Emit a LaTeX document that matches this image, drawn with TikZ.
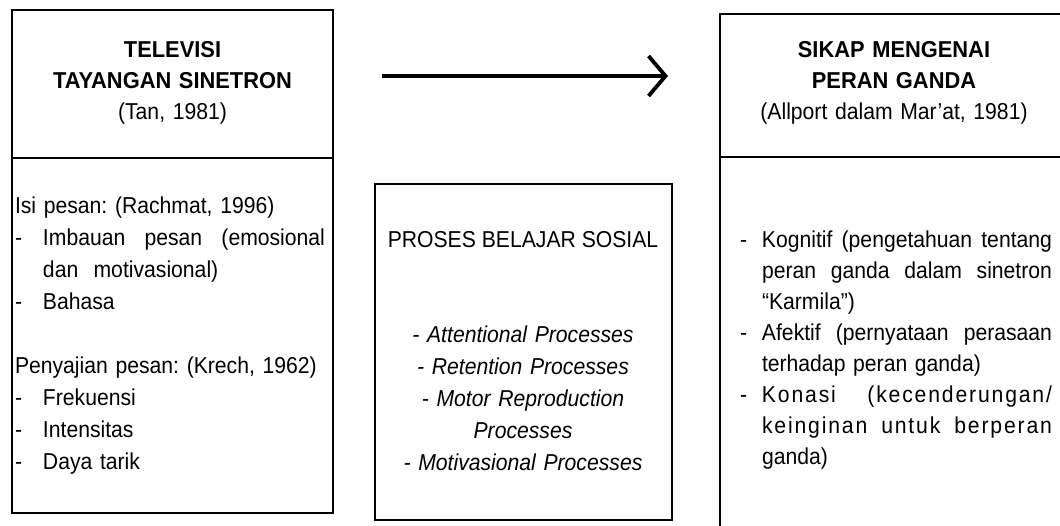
\documentclass[tikz,border=0pt]{standalone}
\usepackage{fontspec}
\setmainfont{Liberation Sans}[FakeStretch=0.92]
\newfontfamily\titlefont{Liberation Sans}[FakeStretch=0.95]
\newfontfamily\midfont{Liberation Sans}[FakeStretch=0.92]
\usetikzlibrary{arrows.meta}
\frenchspacing
\newcommand{\jline}[2]{\hbox to #1{#2}}
\newcommand{\spaced}[1]{{\addfontfeature{LetterSpace=8}#1}}
\begin{document}
\begin{tikzpicture}[x=1pt,y=-1pt,
  boxline/.style={draw=black,line width=1.3pt,inner sep=0pt,outer sep=0pt},
  txt/.style={inner sep=0pt,outer sep=0pt,font=\fontsize{23}{32}\selectfont},
  ttl/.style={txt,align=center,text width=320pt,font=\fontsize{23}{31}\selectfont},
  body/.style={txt,align=left},
  arrowline/.style={line width=3.8pt,-{Straight Barb[length=17pt,width=40pt,line width=3.8pt]}}
]
\useasboundingbox (0,0) rectangle (1060,526);
% left box
\node[boxline,minimum width=321pt,minimum height=148pt,anchor=north west] (ltop) at (12,10) {};
\node[boxline,minimum width=321pt,minimum height=355pt,anchor=north west] (lbot) at (12,158) {};
% middle box
\node[boxline,minimum width=297pt,minimum height=336pt,anchor=north west] (mbox) at (375,184) {};
% right box (cut off at the page edge)
\coordinate (rtl) at (720,14);
\coordinate (rtr) at (1060,14);
\coordinate (rml) at (720,157);
\coordinate (rmr) at (1060,157);
\coordinate (rbl) at (720,526);
\draw[line width=1.3pt] (rtr) -- (rtl) -- (rbl);
\draw[line width=1.3pt] (rml) -- (rmr);
% arrow
\coordinate (astart) at (382,76);
\coordinate (aend) at (668,76);
\draw[arrowline] (astart) -- (aend);
% left title
\node[ttl,anchor=base] (ltitle) at (172.5,58) {{\titlefont\bfseries TELEVISI\\TAYANGAN SINETRON}\\(Tan, 1981)};
% left body
\node[body,text width=315pt,anchor=base west] (lbody) at (15,214) {%
Isi pesan: (Rachmat, 1996)\\
\makebox[28pt][l]{-}\jline{282pt}{Imbauan\hfill pesan\hfill (emosional}\\
\hspace*{28pt}dan\ \ motivasional)\\
\makebox[28pt][l]{-}Bahasa\\[32pt]
Penyajian pesan: (Krech, 1962)\\
\makebox[28pt][l]{-}Frekuensi\\
\makebox[28pt][l]{-}Intensitas\\
\makebox[28pt][l]{-}Daya tarik};
% middle text
\node[txt,anchor=base,font=\fontsize{23}{32}\midfont] (mtitle) at (523,248) {PROSES BELAJAR SOSIAL};
\node[txt,align=center,text width=290pt,anchor=base,font=\fontsize{23}{32}\midfont\itshape] (mlist) at (523,343) {%
- Attentional Processes\\
- Retention Processes\\
- Motor Reproduction\\
Processes\\
- Motivasional Processes};
% right title
\node[ttl,anchor=base] (rtitle) at (894,58) {{\titlefont\bfseries SIKAP MENGENAI\\PERAN GANDA}\\(Allport dalam Mar'at, 1981)};
% right body
\node[body,text width=315pt,anchor=base west,font=\fontsize{23}{31}\selectfont] (rbody) at (740,248) {%
\makebox[22pt][l]{-}\jline{290pt}{Kognitif\hfill (pengetahuan\hfill tentang}\\
\hspace*{22pt}\jline{290pt}{peran\hfill ganda\hfill dalam\hfill sinetron}\\
\hspace*{22pt}``Karmila'')\\
\makebox[22pt][l]{-}\jline{290pt}{Afektif\hfill (pernyataan\hfill perasaan}\\
\hspace*{22pt}terhadap peran ganda)\\
\makebox[22pt][l]{-}\jline{290pt}{\spaced{Konasi}\hfill\spaced{(kecenderungan/}}\\
\hspace*{22pt}\jline{290pt}{\spaced{keinginan}\hfill\spaced{untuk}\hfill\spaced{berperan}}\\
\hspace*{22pt}ganda)};
\end{tikzpicture}
\end{document}
